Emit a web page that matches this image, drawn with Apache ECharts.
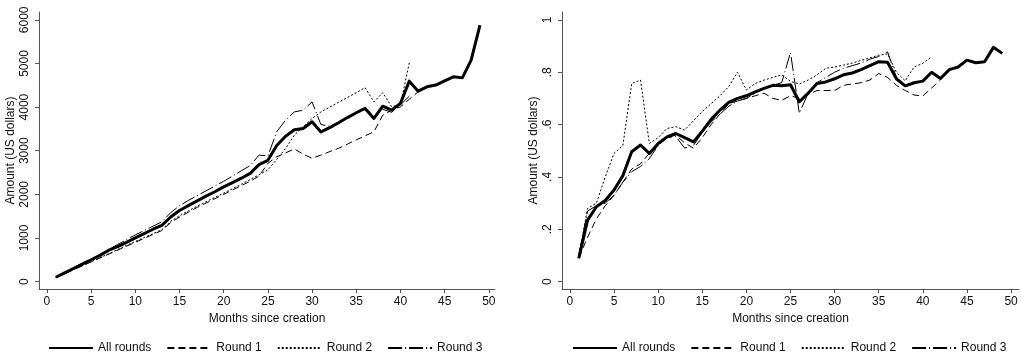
<!DOCTYPE html>
<html>
<head>
<meta charset="utf-8">
<script src="https://cdn.jsdelivr.net/npm/echarts@6/dist/echarts.min.js"></script>
<style>
  html, body { margin: 0; padding: 0; background: #fff; }
  #chart { width: 1021px; height: 356px; }
</style>
</head>
<body>
<div id="chart"></div>
<script>
// months since creation
var months = [1,2,3,4,5,6,7,8,9,10,11,12,13,14,15,16,17,18,19,20,21,22,23,24,25,
              26,27,28,29,30,31,32,33,34,35,36,37,38,39,40,41,42,43,44,45,46,47,48,49];

// left panel: amount in US dollars
var allLeft = [100,200,300,400,500,600,720,800,900,1000,
               1100,1200,1290,1480,1630,1740,1850,1960,2060,2170,
               2270,2370,2480,2680,2780,3120,3330,3480,3510,3665,
               3430,3530,3640,3760,3870,3970,3740,4020,3930,4085,
               4595,4365,4465,4505,4600,4695,4670,5075,5880];
var r1Left = [90,180,270,360,450,540,630,720,810,900,
              990,1080,1170,1350,1480,1590,1700,1800,1900,2000,
              2100,2200,2300,2420,2710,2860,2950,3040,2920,2825,
              2900,2980,3055,3150,3250,3340,3435,3815,3930,4005,
              4180,4350];
var r2Left = [95,185,275,365,455,545,640,735,830,920,
              1010,1100,1190,1380,1510,1620,1730,1830,1930,2030,
              2130,2230,2340,2450,2560,2800,3050,3360,3550,3740,
              3890,4000,4110,4220,4330,4445,4120,4330,4010,4050,
              5015];
var r3Left = [100,210,320,420,520,620,740,850,960,1070,
              1170,1270,1370,1580,1740,1860,1970,2080,2190,2300,
              2420,2540,2660,2900,2880,3435,3700,3890,3930,4120,
              3600,3560,3650,3760,3880,4000,3760,3950,3880,4050,
              4250];

// right panel: amount (share)
var allRight = [.089,.235,.286,.31,.35,.405,.496,.522,.49,.528,
                .553,.566,.55,.534,.575,.62,.655,.685,.70,.71,
                .725,.738,.75,.748,.752,.687,.72,.757,.763,.775,
                .79,.797,.81,.825,.84,.838,.775,.748,.76,.766,
                .80,.776,.81,.82,.846,.836,.84,.895,.872];
var r1Right = [.09,.17,.24,.29,.33,.38,.43,.45,.49,.52,
               .55,.56,.53,.51,.55,.60,.64,.68,.69,.70,
               .71,.72,.70,.693,.71,.70,.715,.73,.73,.73,
               .75,.755,.76,.77,.795,.78,.75,.73,.713,.709,
               .74,.77];
var r2Right = [.095,.28,.30,.40,.49,.52,.757,.77,.528,.55,
               .585,.592,.579,.615,.65,.68,.71,.745,.80,.732,
               .757,.77,.78,.79,.765,.755,.77,.79,.815,.82,
               .827,.835,.845,.855,.865,.87,.80,.767,.82,.834,
               .859];
var r3Right = [.10,.27,.29,.30,.33,.38,.42,.44,.47,.52,
               .55,.555,.51,.52,.57,.61,.64,.67,.69,.70,
               .72,.74,.75,.76,.875,.643,.72,.76,.78,.80,
               .815,.825,.835,.85,.86,.878,.78,.745,.755,.77,
               .80];

var xTicks = [0,5,10,15,20,25,30,35,40,45,50];
var yTicksLeft = [0,1000,2000,3000,4000,5000,6000];
var yTicksRight = [0,.2,.4,.6,.8,1];
var names = ['All rounds','Round 1','Round 2','Round 3'];

var FONT = 'Liberation Sans, Arial, sans-serif';
var AXIS_COLOR = '#555';

function pairs(values) {
    return values.map(function (v, i) { return [months[i], v]; });
}

function xAxisFor(gridIndex, min, max) {
    return {
        type: 'value', gridIndex: gridIndex, min: min, max: max,
        name: 'Months since creation', nameLocation: 'middle', nameGap: 22,
        nameTextStyle: { color: '#111', fontSize: 12, fontFamily: FONT },
        axisLine: { show: true, onZero: false, lineStyle: { color: AXIS_COLOR, width: 1 } },
        axisTick: { show: true, length: 4, customValues: xTicks, lineStyle: { color: AXIS_COLOR } },
        axisLabel: { customValues: xTicks, margin: 7, color: '#111', fontSize: 12, fontFamily: FONT },
        splitLine: { show: false }
    };
}

function yAxisFor(gridIndex, min, max, ticks, fmt) {
    return {
        type: 'value', gridIndex: gridIndex, min: min, max: max,
        name: 'Amount (US dollars)', nameLocation: 'middle', nameGap: 22, nameRotate: 90,
        nameTextStyle: { color: '#111', fontSize: 12, fontFamily: FONT },
        axisLine: { show: true, onZero: false, lineStyle: { color: AXIS_COLOR, width: 1 } },
        axisTick: { show: true, length: 4, customValues: ticks, lineStyle: { color: AXIS_COLOR } },
        axisLabel: { customValues: ticks, rotate: 90, margin: 8, color: '#111', fontSize: 12,
                     fontFamily: FONT, formatter: fmt },
        splitLine: { show: false }
    };
}

function fracLabel(v) {
    if (v === 0) return '0';
    if (v === 1) return '1';
    return String(Math.round(v * 10) / 10).replace('0.', '.');
}

var styles = [
    { width: 3, type: 'solid' },
    { width: 1, type: [7, 4] },
    { width: 1, type: [2, 2] },
    { width: 1, type: [14, 3, 1, 3] }
];

function seriesFor(idx, name, values, style) {
    return {
        name: name, type: 'line', xAxisIndex: idx, yAxisIndex: idx,
        data: pairs(values), symbol: 'none', silent: true, animation: false,
        color: '#000', itemStyle: { color: '#000' },
        lineStyle: { color: '#000', width: style.width, type: style.type, join: 'round' }
    };
}

function legendFor(left) {
    return {
        data: names, left: left, top: 337, itemWidth: 44, itemHeight: 14, itemGap: 15,
        itemStyle: { opacity: 0 },
        textStyle: { color: '#111', fontSize: 12, fontFamily: FONT },
        selectedMode: false
    };
}

var chart = echarts.init(document.getElementById('chart'), null, { renderer: 'canvas' });

var leftSets = [allLeft, r1Left, r2Left, r3Left];
var rightSets = [allRight, r1Right, r2Right, r3Right];
var series = [];
names.forEach(function (n, i) { series.push(seriesFor(0, n, leftSets[i], styles[i])); });
names.forEach(function (n, i) { series.push(seriesFor(1, n, rightSets[i], styles[i])); });

var option = {
    backgroundColor: '#fff',
    animation: false,
    grid: [
        { left: 39, right: 526, top: 12, bottom: 67 },
        { left: 562, right: 2, top: 12, bottom: 67 }
    ],
    xAxis: [xAxisFor(0, -0.9, 50.7), xAxisFor(1, -0.9, 50.9)],
    yAxis: [
        yAxisFor(0, -170, 6180, yTicksLeft, function (v) { return String(v); }),
        yAxisFor(1, -0.028, 1.03, yTicksRight, fracLabel)
    ],
    legend: [legendFor(43), legendFor(567)],
    series: series
};

chart.setOption(option);
</script>
</body>
</html>
